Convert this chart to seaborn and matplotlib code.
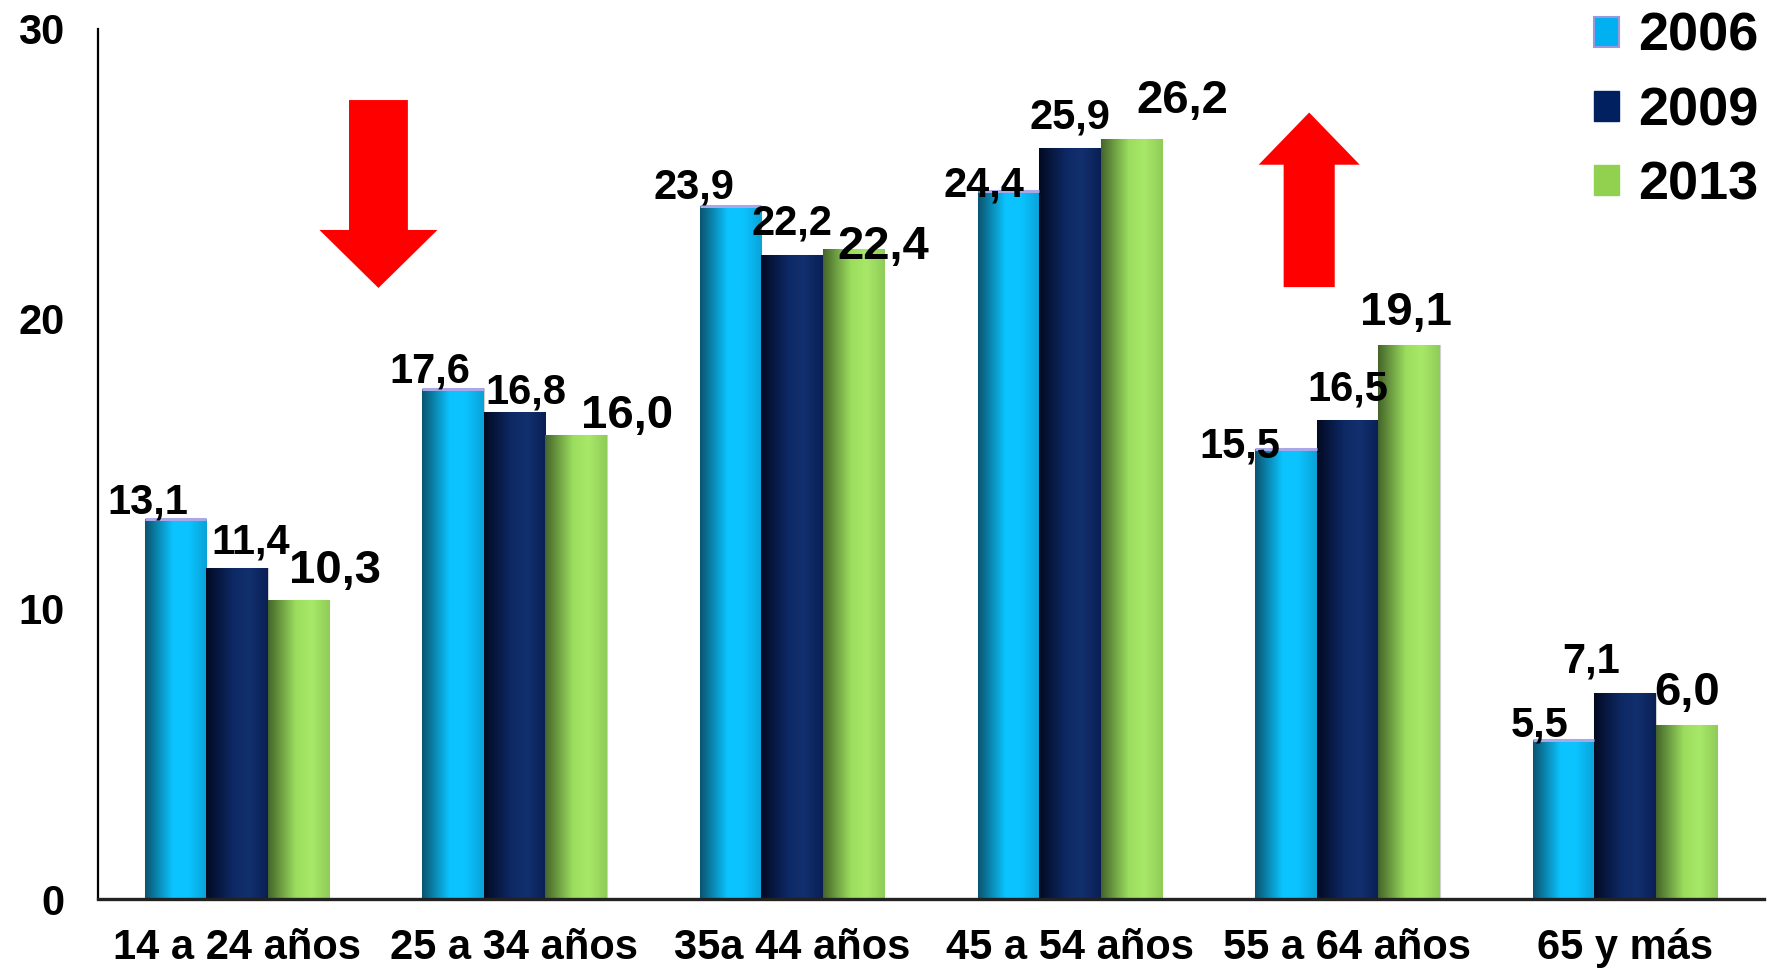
import numpy as np
import pandas as pd
import matplotlib
matplotlib.use("Agg")
import matplotlib.pyplot as plt
import seaborn as sns
from matplotlib.patches import FancyArrow, Patch
from matplotlib.colors import to_rgb

## Data
age_groups = ["14 a 24 años", "25 a 34 años", "35a 44 años",
              "45 a 54 años", "55 a 64 años", "65 y más"]
years = ["2006", "2009", "2013"]
vals_2006 = [13.1, 17.6, 23.9, 24.4, 15.5, 5.5]
vals_2009 = [11.4, 16.8, 22.2, 25.9, 16.5, 7.1]
vals_2013 = [10.3, 16.0, 22.4, 26.2, 19.1, 6.0]

df = pd.DataFrame({
    "grupo": age_groups * 3,
    "anio": [y for y in years for _ in age_groups],
    "valor": vals_2006 + vals_2009 + vals_2013,
})

## Styling
palette = {"2006": "#00B0F0", "2009": "#002060", "2013": "#92D050"}
# left / middle / right shades of the "cylinder" look
shades = {
    "2006": ["#0A5470", "#0BC4FF", "#0BC4FF", "#0AA2D8"],
    "2009": ["#020A22", "#0E2A66", "#12306E", "#0A1E55"],
    "2013": ["#45652A", "#9BDD5E", "#A8E868", "#90CC58"],
}
label_size = [30, 30, 34]
# label offsets in pixels (dx, dy from bar top)
label_dx = [[-27, -23, -37, -24, -46, -24],
            [14, 11, 0, 0, 0, -34],
            [37, 51, 30, 51, -3, 0]]
label_dy = [[6, 6, 7, -5, -8, 3],
            [15, 8, 21, 19, 20, 21],
            [17, 7, -10, 26, 20, 20]]

sns.set_theme(style="white")
plt.rcParams["font.family"] = ["Liberation Sans", "DejaVu Sans"]
plt.rcParams["font.weight"] = "bold"
plt.rcParams["text.color"] = "black"

fig = plt.figure(figsize=(17.74, 9.71), dpi=100)
ax = fig.add_axes([98 / 1774, 72 / 971, 1666 / 1774, 870 / 971])

sns.barplot(data=df, x="grupo", y="valor", hue="anio", palette=palette,
            width=0.665, saturation=1, edgecolor="#d0d0d0", linewidth=0.8,
            legend=False, ax=ax)

ax.set_xlim(-0.5, 5.5)
ax.set_ylim(0, 30)

## Gradient fill clipped to every bar
pos = np.linspace(0, 1, 128)
for yi, cont in zip(years, ax.containers):
    stops = np.array([to_rgb(c) for c in shades[yi]])
    grad = np.stack([np.interp(pos, [0, 0.45, 0.7, 1.0], stops[:, k]) for k in range(3)], axis=1)
    for bar in cont:
        x0 = bar.get_x()
        w = bar.get_width()
        h = bar.get_height()
        im = ax.imshow(grad[np.newaxis, :, :], extent=[x0, x0 + w, 0, h],
                       aspect="auto", zorder=bar.get_zorder() + 0.1,
                       interpolation="bilinear")
        im.set_clip_path(bar)
        if yi == "2006":
            ax.plot([x0, x0 + w], [h, h], color="#A8A8E8", lw=2.2,
                    zorder=bar.get_zorder() + 0.2, solid_capstyle="butt")

ax.set_xlim(-0.5, 5.5)
ax.set_ylim(0, 30)

## Value labels
for i, cont in enumerate(ax.containers):
    for j, bar in enumerate(cont):
        h = bar.get_height()
        ax.annotate(f"{h:.1f}".replace(".", ","),
                    xy=(bar.get_x() + bar.get_width() / 2, h),
                    xytext=(label_dx[i][j], label_dy[i][j]),
                    textcoords="offset pixels", ha="center", va="baseline",
                    fontsize=label_size[i], fontweight="bold", color="black",
                    zorder=10)

## Red arrows
ax.add_patch(FancyArrow(0.51, 27.55, 0, -6.48, width=0.212, head_width=0.425,
                        head_length=2.0, length_includes_head=True,
                        color="#FF0000", zorder=5, lw=0))
ax.add_patch(FancyArrow(3.862, 21.1, 0, 6.02, width=0.184, head_width=0.364,
                        head_length=1.8, length_includes_head=True,
                        color="#FF0000", zorder=5, lw=0))

## Axes
ax.set_xlabel("")
ax.set_ylabel("")
ax.set_yticks([0, 10, 20, 30])
ax.set_yticklabels(["0", "10", "20", "30"], fontsize=30, fontweight="bold")
ax.set_xticks(range(len(age_groups)))
ax.set_xticklabels(age_groups, fontsize=30, fontweight="bold")
ax.tick_params(axis="y", length=0, pad=24, colors="black")
ax.tick_params(axis="x", length=0, pad=21, colors="black")
sns.despine(ax=ax)
ax.spines["left"].set_color("black")
ax.spines["left"].set_linewidth(1.6)
ax.spines["bottom"].set_color("#222222")
ax.spines["bottom"].set_linewidth(2.4)

## Legend
handles = [Patch(facecolor=palette["2006"], edgecolor="#9999DD", linewidth=1.5),
           Patch(facecolor=palette["2009"], edgecolor=palette["2009"]),
           Patch(facecolor=palette["2013"], edgecolor=palette["2013"])]
fig.legend(handles, years, loc="upper right", bbox_to_anchor=(0.998, 1.0),
           frameon=False, prop={"weight": "bold", "size": 39},
           labelcolor="black",
           handlelength=0.47, handleheight=0.47, handletextpad=0.35,
           labelspacing=0.45, borderaxespad=0.1, borderpad=0.12)

fig.savefig("out.png", dpi=100)
